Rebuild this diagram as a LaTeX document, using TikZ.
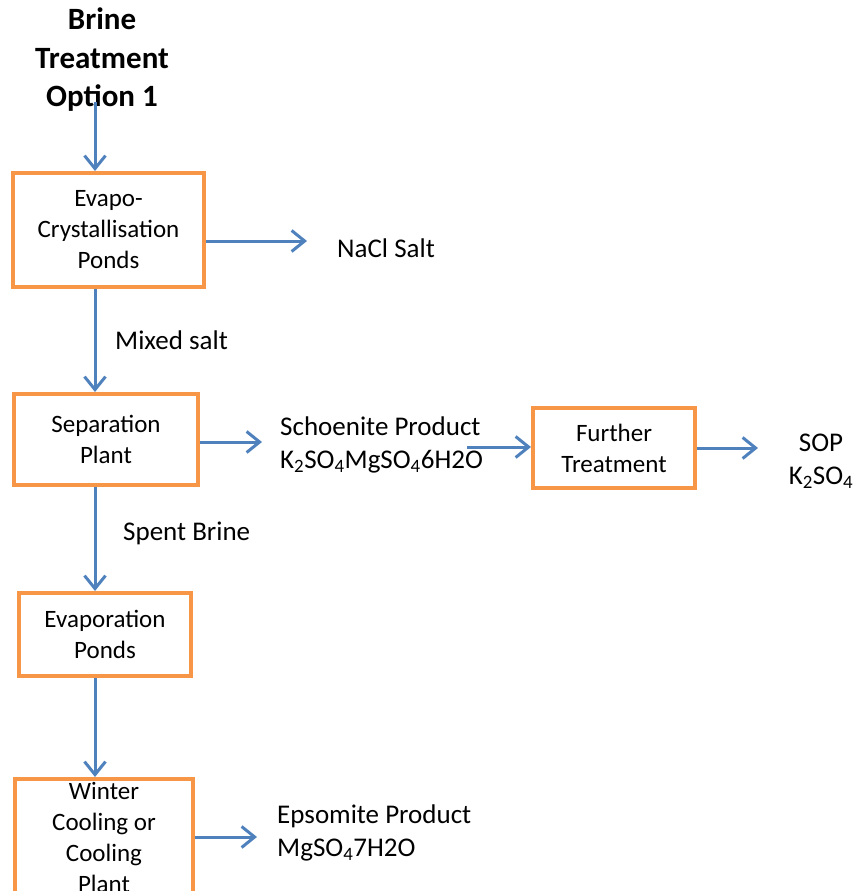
\documentclass[tikz,border=0pt]{standalone}
\usepackage{fontspec}
\setmainfont{Carlito}
\usetikzlibrary{arrows.meta}
\definecolor{boxorange}{HTML}{F79646}
\definecolor{flowblue}{HTML}{4F81BD}

\begin{document}
\begin{tikzpicture}
	[x=1pt, y=-1pt,
	 unit/.style={rectangle, draw=boxorange, line width=4pt, align=center, inner sep=0pt, font=\fontsize{25}{31}\selectfont},
	 stream/.style={align=center, inner sep=0pt, font=\fontsize{27}{33}\selectfont},
	 flow/.style={draw=flowblue, line width=3pt, -{Straight Barb[length=13pt,width=21pt]}}]
	\useasboundingbox (0,0) rectangle (858,891);
	\node[align=center, inner sep=0pt, font=\bfseries\fontsize{31}{38.5}\selectfont] (title) at (102,60) {Brine\\Treatment\\Option 1};
	\node[unit, minimum width=191pt, minimum height=114pt] (cryst) at (108.5,230) {Evapo-\\Crystallisation\\Ponds};
	\node[unit, minimum width=184pt, minimum height=91pt] (sep) at (106,439.5) {Separation\\Plant};
	\node[unit, minimum width=162pt, minimum height=80pt] (treat) at (614,448) {Further\\Treatment};
	\node[unit, minimum width=172pt, minimum height=83pt] (evap) at (105,634.5) {Evaporation\\Ponds};
	\node[unit, minimum width=178pt, minimum height=116pt] (cool) at (104,837) {Winter\\Cooling or\\Cooling\\Plant};
	\node[stream, anchor=west] (nacl) at (337,248) {NaCl Salt};
	\node[stream, anchor=west] (mixed) at (115,340) {Mixed salt};
	\node[stream, align=left, anchor=west] (schoen) at (280,445) {Schoenite Product\\K\textsubscript{2}SO\textsubscript{4}MgSO\textsubscript{4}6H2O};
	\node[stream] (sop) at (821,461) {SOP\\K\textsubscript{2}SO\textsubscript{4}};
	\node[stream, anchor=west] (spent) at (123,533) {Spent Brine};
	\node[stream, align=left, anchor=west] (epsom) at (277,833) {Epsomite Product\\MgSO\textsubscript{4}7H2O};
	\coordinate (col) at (95,0);
	\coordinate (toNacl) at (307,241);
	\coordinate (toSchoen) at (262,442);
	\coordinate (fromSchoen) at (467,447);
	\coordinate (toSop) at (758,448);
	\coordinate (toEpsom) at (257,837);
	\draw[flow, shorten <=-10pt] (title.south -| col) -- (cryst.north -| col);
	\draw[flow] (cryst.south -| col) -- (sep.north -| col);
	\draw[flow] (sep.south -| col) -- (evap.north -| col);
	\draw[flow] (evap.south -| col) -- (cool.north -| col);
	\draw[flow] (cryst.east |- toNacl) -- (toNacl);
	\draw[flow] (sep.east |- toSchoen) -- (toSchoen);
	\draw[flow] (fromSchoen) -- (treat.west |- fromSchoen);
	\draw[flow] (treat.east |- toSop) -- (toSop);
	\draw[flow] (cool.east |- toEpsom) -- (toEpsom);
\end{tikzpicture}
\end{document}
